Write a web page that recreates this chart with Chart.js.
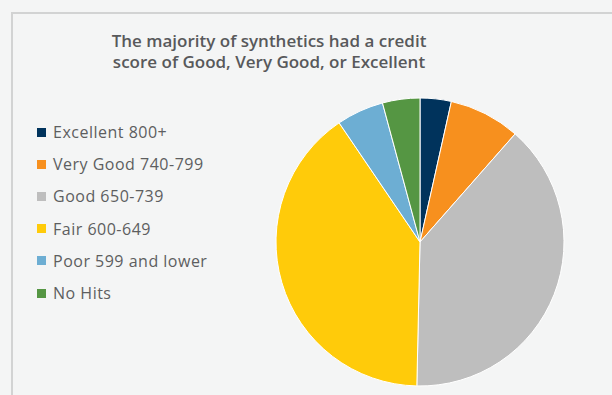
<!DOCTYPE html>
<html>
<head>
<meta charset="utf-8">
<script src="https://cdn.jsdelivr.net/npm/chart.js@4.4.1/dist/chart.umd.min.js"></script>
<style>
    html, body { margin: 0; padding: 0; }
    body {
        width: 612px;
        height: 395px;
        overflow: hidden;
        position: relative;
        background: #f4f5f5;
        font-family: 'Open Sans', sans-serif;
    }
    .frame {
        position: absolute;
        left: 11px;
        top: 12px;
        width: 700px;
        height: 500px;
        border-left: 2px solid #d2d3d3;
        border-top: 2px solid #d2d3d3;
    }
    .chart-title {
        position: absolute;
        left: 0;
        top: 30px;
        width: 538px;
        text-align: center;
        font-size: 17px;
        line-height: 21px;
        font-weight: 600;
        color: #58595b;
        margin: 0;
    }
    #credit-legend {
        position: absolute;
        left: 37px;
        top: 116px;
        margin: 0;
        padding: 0;
        list-style: none;
    }
    #credit-legend li {
        display: flex;
        align-items: center;
        height: 32.2px;
        font-size: 16px;
        letter-spacing: 0.5px;
        color: #5d5e60;
        white-space: nowrap;
    }
    #credit-legend .swatch {
        display: inline-block;
        width: 9px;
        height: 9px;
        margin-right: 7px;
    }
    .pie-wrap {
        position: absolute;
        left: 270px;
        top: 92px;
        width: 300px;
        height: 300px;
    }
</style>
</head>
<body>
<div class="frame"></div>
<h1 class="chart-title" id="chart-title"></h1>
<ul id="credit-legend"></ul>
<div class="pie-wrap"><canvas id="credit-score-pie"></canvas></div>

<script>
const titleLines = ['The majority of synthetics had a credit', 'score of Good, Very Good, or Excellent'];
const categories = ['Excellent 800+', 'Very Good 740-799', 'Good 650-739', 'Fair 600-649', 'Poor 599 and lower', 'No Hits'];
const shares = [3.5, 8.0, 38.9, 40.2, 5.3, 4.2];
const sliceColors = ['#00335c', '#f7901e', '#bebebe', '#ffcb0a', '#6daed3', '#559643'];

let creditPieChart = null;

function renderHtmlLegend(chart) {
    const list = document.getElementById('credit-legend');
    if (!list) return;
    list.innerHTML = '';
    const items = chart.options.plugins.legend.labels.generateLabels(chart);
    items.forEach((item) => {
        const li = document.createElement('li');
        const box = document.createElement('span');
        box.className = 'swatch';
        box.style.background = item.fillStyle;
        const text = document.createElement('span');
        text.textContent = item.text;
        li.appendChild(box);
        li.appendChild(text);
        list.appendChild(li);
    });
}

function initCreditPie() {
    const titleEl = document.getElementById('chart-title');
    if (titleEl) titleEl.innerHTML = titleLines.join('<br>');

    const canvas = document.getElementById('credit-score-pie');
    if (!canvas || typeof Chart === 'undefined') return;

    creditPieChart = new Chart(canvas, {
        type: 'pie',
        data: {
            labels: categories,
            datasets: [
                {
                    data: shares,
                    backgroundColor: sliceColors,
                    borderColor: '#ffffff',
                    borderWidth: 1,
                },
            ],
        },
        options: {
            responsive: true,
            maintainAspectRatio: false,
            animation: false,
            layout: { padding: 5.5 },
            plugins: {
                legend: { display: false },
                tooltip: { enabled: false },
                title: { display: false },
            },
        },
    });

    renderHtmlLegend(creditPieChart);
}

document.addEventListener('DOMContentLoaded', initCreditPie);
</script>
</body>
</html>
